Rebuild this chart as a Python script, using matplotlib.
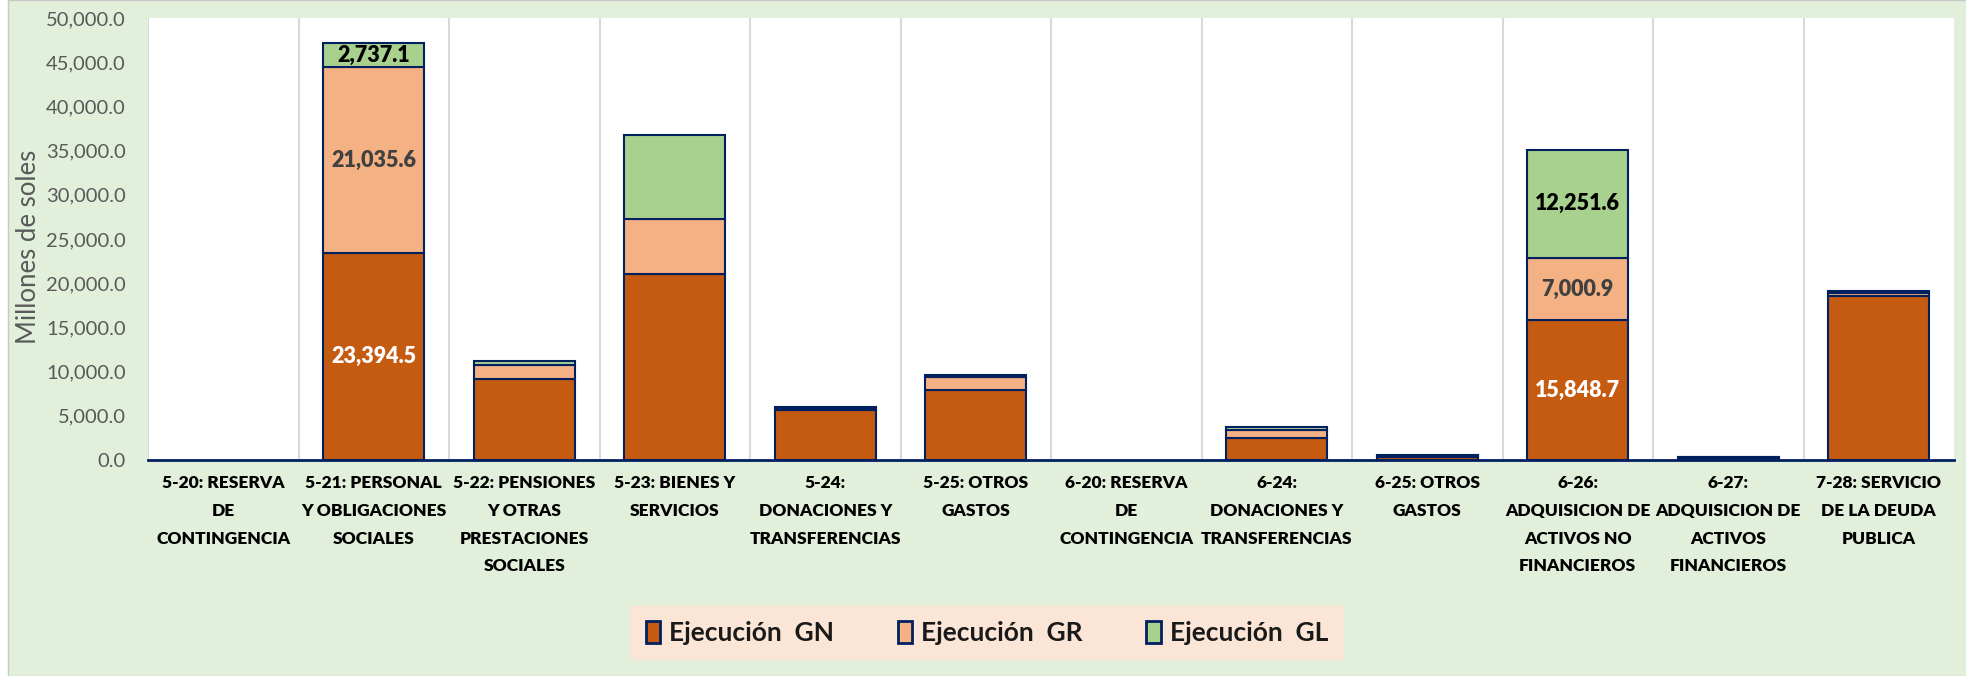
import matplotlib.pyplot as plt
from matplotlib.patches import Rectangle
import numpy as np

# datos (millones de soles)
categorias = [
    "5-20: RESERVA\nDE\nCONTINGENCIA",
    "5-21: PERSONAL\nY OBLIGACIONES\nSOCIALES",
    "5-22: PENSIONES\nY OTRAS\nPRESTACIONES\nSOCIALES",
    "5-23: BIENES Y\nSERVICIOS",
    "5-24:\nDONACIONES Y\nTRANSFERENCIAS",
    "5-25: OTROS\nGASTOS",
    "6-20: RESERVA\nDE\nCONTINGENCIA",
    "6-24:\nDONACIONES Y\nTRANSFERENCIAS",
    "6-25: OTROS\nGASTOS",
    "6-26:\nADQUISICION DE\nACTIVOS NO\nFINANCIEROS",
    "6-27:\nADQUISICION DE\nACTIVOS\nFINANCIEROS",
    "7-28: SERVICIO\nDE LA DEUDA\nPUBLICA",
]
ejec_gn = [0, 23394.5, 9150, 21070, 5650, 7880, 0, 2450, 350, 15848.7, 250, 18500]
ejec_gr = [0, 21035.6, 1550, 6190, 250, 1470, 0, 940, 130, 7000.9, 60, 350]
ejec_gl = [0, 2737.1, 500, 9500, 120, 300, 0, 380, 80, 12251.6, 30, 300]
# indices de las barras con etiqueta de datos
con_etiqueta = [1, 9]

fondo = "#E2EFDA"
borde = "#002060"
colores = ["#C55A11", "#F4B183", "#A9D18E"]
col_texto = ["white", "#404040", "black"]
nombres = ["Ejecución  GN", "Ejecución  GR", "Ejecución  GL"]

fig = plt.figure(figsize=(19.66, 6.76), dpi=100)
fig.patch.set_facecolor("white")
fig.patches.append(Rectangle((8 / 1966, 0), 1, 1, transform=fig.transFigure,
                             facecolor=fondo, edgecolor="#C8C8C8", lw=1, zorder=-10))

ax = fig.add_axes([148 / 1966, 1 - 460 / 676, 1806 / 1966, 442 / 676])
ax.set_facecolor("white")

x = np.arange(len(categorias))
series = [ejec_gn, ejec_gr, ejec_gl]
base = np.zeros(len(categorias))
for k, vals in enumerate(series):
    vals = np.array(vals, dtype=float)
    ax.bar(x, vals, 0.67, bottom=base, color=colores[k], edgecolor=borde,
           linewidth=[1.5 if v > 0 else 0 for v in vals], label=nombres[k], zorder=3)
    for i in con_etiqueta:
        ax.text(x[i], base[i] + vals[i] / 2, f"{vals[i]:,.1f}", ha="center", va="center",
                fontsize=15.5, fontweight="heavy", color=col_texto[k], family="Lato", zorder=4)
    base += vals

ax.set_xlim(-0.5, len(categorias) - 0.5)
ax.set_ylim(0, 50000)
ax.set_yticks(np.arange(0, 50001, 5000))
ax.set_yticklabels([f"{v:,.1f}" for v in np.arange(0, 50001, 5000)],
                   fontsize=14.5, color="#595959", family="Lato")
ax.set_xticks(x)
ax.set_xticklabels(categorias, fontsize=12.5, fontweight="heavy", family="Lato",
                   linespacing=1.9)
ax.tick_params(axis="both", length=0)
ax.tick_params(axis="y", pad=16)
ax.tick_params(axis="x", pad=11)

for b in np.arange(-0.5, len(categorias) - 0.5, 1.0):
    ax.axvline(b, color="#D9D9D9", lw=1.5, zorder=1)

for s in ["top", "right", "left"]:
    ax.spines[s].set_visible(False)
ax.spines["bottom"].set_color(borde)
ax.spines["bottom"].set_linewidth(2)
ax.spines["bottom"].set_zorder(5)

ax.set_ylabel("Millones de soles", fontsize=18.5, color="#595959", family="Lato")
ax.yaxis.set_label_coords(-0.0590, 0.482)

leg = fig.legend(loc="center", bbox_to_anchor=(0.502, 0.064), ncol=3, frameon=True,
                 fancybox=False, prop={"family": "Lato", "weight": "bold", "size": 19},
                 handlelength=0.55, handleheight=0.95, handletextpad=0.35, columnspacing=2.4,
                 borderpad=0.55, borderaxespad=0)
leg.get_frame().set_facecolor("#FBE5D6")
leg.get_frame().set_edgecolor("#FBE5D6")
leg.get_frame().set_alpha(1)
for t in leg.get_texts():
    t.set_color("#1A1A1A")
for h in leg.legend_handles:
    h.set_edgecolor(borde)
    h.set_linewidth(2)

fig.savefig("out.png", dpi=100, facecolor=fig.get_facecolor())
